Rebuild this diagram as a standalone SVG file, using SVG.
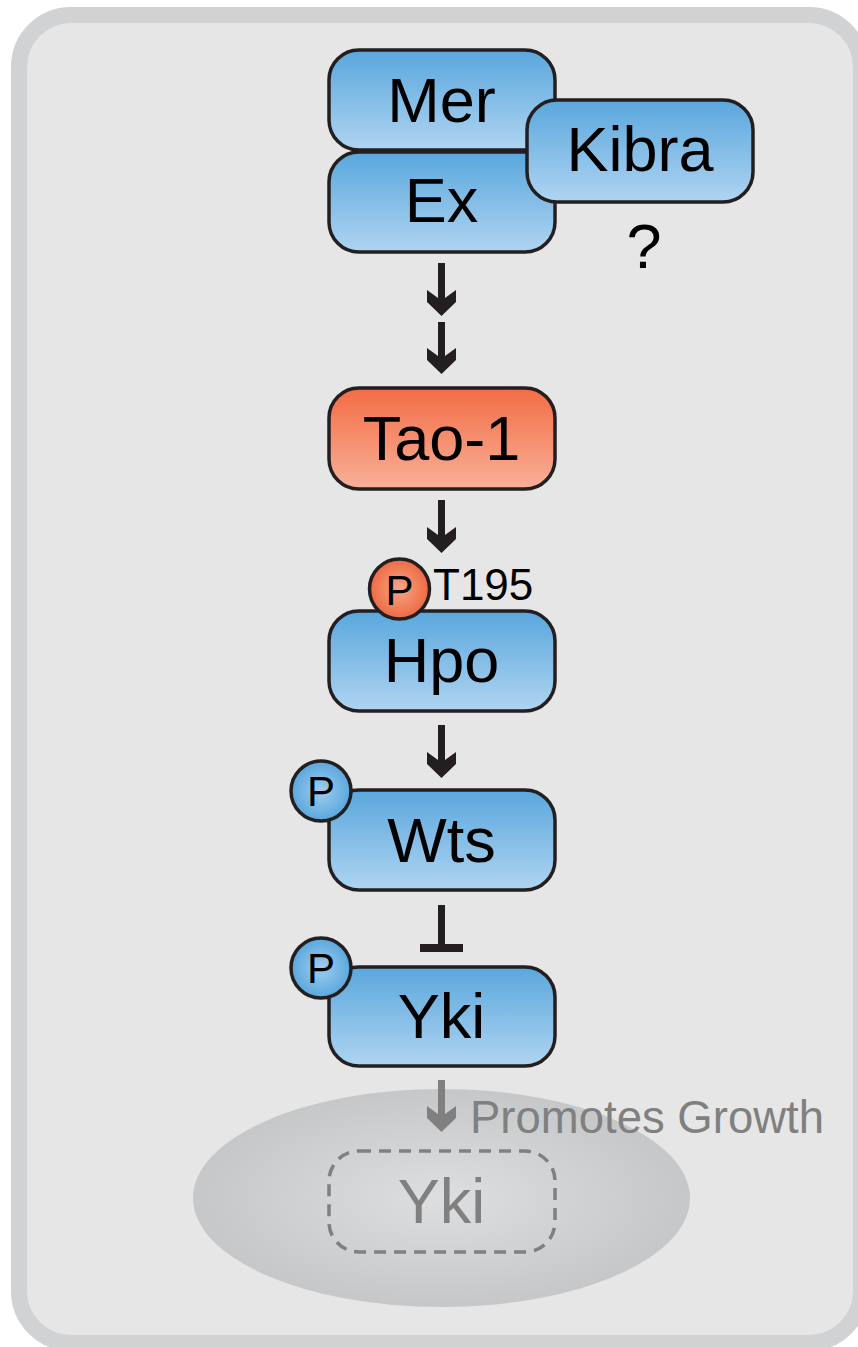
<svg xmlns="http://www.w3.org/2000/svg" width="858" height="1347" viewBox="0 0 858 1347">
  <defs>
    <linearGradient id="blueFill" x1="0" y1="0" x2="0" y2="1">
      <stop offset="0" stop-color="#5aa7dd"/>
      <stop offset="1" stop-color="#afd4f1"/>
    </linearGradient>
    <linearGradient id="orangeFill" x1="0" y1="0" x2="0" y2="1">
      <stop offset="0" stop-color="#f26c45"/>
      <stop offset="1" stop-color="#f9b098"/>
    </linearGradient>
    <radialGradient id="orangeBall" cx="0.5" cy="0.5" r="0.5">
      <stop offset="0" stop-color="#f9a584"/>
      <stop offset="1" stop-color="#ec6a43"/>
    </radialGradient>
    <radialGradient id="blueBall" cx="0.5" cy="0.5" r="0.5">
      <stop offset="0" stop-color="#9fcdee"/>
      <stop offset="1" stop-color="#5aa7dd"/>
    </radialGradient>
    <radialGradient id="nucleusFill" cx="0.5" cy="0.5" r="0.5">
      <stop offset="0" stop-color="#dddedf"/>
      <stop offset="1" stop-color="#c6c7c9"/>
    </radialGradient>
  </defs>
  <style>
    .box { stroke: #231f20; stroke-width: 3.5; }
    .blue { fill: url(#blueFill); }
    .orange { fill: url(#orangeFill); }
    .label { font-family: "Liberation Sans", Arial, sans-serif; font-size: 63px; fill: #000; text-anchor: middle; }
    .ball { stroke: #231f20; stroke-width: 3.5; }
    .p { font-family: "Liberation Sans", Arial, sans-serif; font-size: 42px; fill: #000; text-anchor: middle; }
    .arrow { fill: #231f20; }
    .grey { fill: #808080; }
  </style>

  <!-- cell outline -->
  <rect x="19" y="15" width="842" height="1328" rx="52" fill="#e6e6e6" stroke="#d1d2d4" stroke-width="16"/>

  <!-- nucleus -->
  <ellipse cx="441.5" cy="1198" rx="248.5" ry="109" fill="url(#nucleusFill)"/>

  <g id="mer">
    <rect class="box blue" x="329" y="50" width="226" height="100" rx="30"/>
    <text class="label" x="441.5" y="122">Mer</text>
  </g>
  <g id="ex">
    <rect class="box blue" x="329" y="152" width="226" height="100" rx="30"/>
    <text class="label" x="441.5" y="222">Ex</text>
  </g>
  <g id="kibra">
    <rect class="box blue" x="527" y="100" width="226" height="102" rx="30"/>
    <text class="label" x="640" y="171">Kibra</text>
    <text class="label" x="644" y="268">?</text>
  </g>
  <g id="tao1">
    <rect class="box orange" x="329" y="388" width="226" height="101" rx="30"/>
    <text class="label" x="441.5" y="460">Tao-1</text>
  </g>
  <g id="hpo">
    <rect class="box blue" x="329" y="611" width="226" height="100" rx="30"/>
    <text class="label" x="441.5" y="682">Hpo</text>
    <circle class="ball" cx="399.5" cy="589" r="30" fill="url(#orangeBall)"/>
    <text class="p" x="399.5" y="605">P</text>
    <text font-family="Liberation Sans, Arial, sans-serif" font-size="44" x="433" y="600">T195</text>
  </g>
  <g id="wts">
    <rect class="box blue" x="329" y="790" width="226" height="100" rx="30"/>
    <text class="label" x="441.5" y="862">Wts</text>
    <circle class="ball" cx="321" cy="791" r="30" fill="url(#blueBall)"/>
    <text class="p" x="321" y="806">P</text>
  </g>
  <g id="yki">
    <rect class="box blue" x="329" y="967" width="226" height="99" rx="30"/>
    <text class="label" x="441.5" y="1038">Yki</text>
    <circle class="ball" cx="321" cy="968" r="30" fill="url(#blueBall)"/>
    <text class="p" x="321" y="983">P</text>
  </g>
  <g id="yki-nuclear">
    <rect x="329" y="1151" width="226" height="101" rx="30" fill="none" stroke="#808080" stroke-width="3.5" stroke-dasharray="12 8"/>
    <text class="label" x="441.5" y="1223" style="fill:#808080">Yki</text>
  </g>

  <g id="connectors">
    <path class="arrow" d="M438,263 V298 L427,290 V302 L441.5,316 L456,302 V290 L445,298 V263 Z"/>
    <path class="arrow" d="M438,322 V356 L427,348 V360 L441.5,374 L456,360 V348 L445,356 V322 Z"/>
    <path class="arrow" d="M438,500 V535 L427,527 V539 L441.5,553 L456,539 V527 L445,535 V500 Z"/>
    <path class="arrow" d="M438,725 V760 L427,752 V764 L441.5,778 L456,764 V752 L445,760 V725 Z"/>
    <path class="arrow" d="M438,905 V944 H420 V952 H463 V944 H445 V905 Z"/>
    <path class="grey" d="M438,1080 V1114 L427,1106 V1118 L441.5,1132 L456,1118 V1106 L445,1114 V1080 Z"/>
    <text font-family="Liberation Sans, Arial, sans-serif" font-size="45.5" fill="#808080" x="470" y="1133">Promotes Growth</text>
  </g>
</svg>
